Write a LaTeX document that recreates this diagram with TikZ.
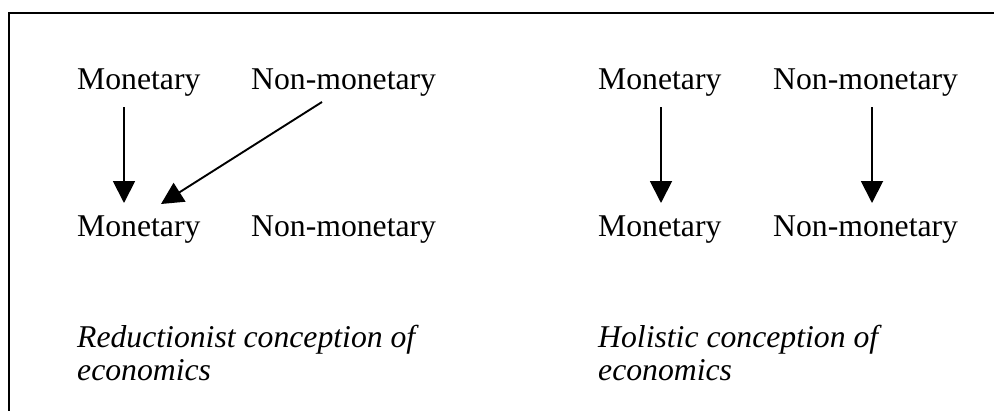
\documentclass[tikz,border=0pt]{standalone}
\usepackage{fontspec}
\setmainfont{Liberation Serif}
\usetikzlibrary{arrows.meta}
\begin{document}
\begin{tikzpicture}[x=1pt,y=-1pt,
  lbl/.style={anchor=base west,inner sep=0pt,font=\fontsize{31.7}{38}\selectfont},
  captxt/.style={lbl,font=\fontsize{31.7}{38}\selectfont\itshape},
  arr/.style={line width=1.9pt,-{Triangle[length=22pt,width=22pt]}},
  framestyle/.style={line width=1.6pt}]
\useasboundingbox (0,0) rectangle (994,410);
\draw[framestyle] (9,412) -- (9,13) -- (996,13);
% left panel
\node[lbl] (lm1) at (77,89) {Monetary};
\node[lbl] (ln1) at (251,89) {Non-monetary};
\node[lbl] (lm2) at (77,236) {Monetary};
\node[lbl] (ln2) at (251,236) {Non-monetary};
\node[captxt] (lc1) at (77,347) {Reductionist conception of};
\node[captxt] (lc2) at (77,380) {economics};
\coordinate (la1) at (124,107);
\coordinate (la2) at (124,203);
\coordinate (ld1) at (322,102);
\coordinate (ld2) at (161,204);
\draw[arr] (la1) -- (la2);
\draw[arr] (ld1) -- (ld2);
% right panel
\node[lbl] (rm1) at (598,89) {Monetary};
\node[lbl] (rn1) at (773,89) {Non-monetary};
\node[lbl] (rm2) at (598,236) {Monetary};
\node[lbl] (rn2) at (773,236) {Non-monetary};
\node[captxt] (rc1) at (598,347) {Holistic conception of};
\node[captxt] (rc2) at (598,380) {economics};
\coordinate (ra1) at (661,107);
\coordinate (ra2) at (661,203);
\coordinate (rb1) at (872,107);
\coordinate (rb2) at (872,203);
\draw[arr] (ra1) -- (ra2);
\draw[arr] (rb1) -- (rb2);
\end{tikzpicture}
\end{document}
